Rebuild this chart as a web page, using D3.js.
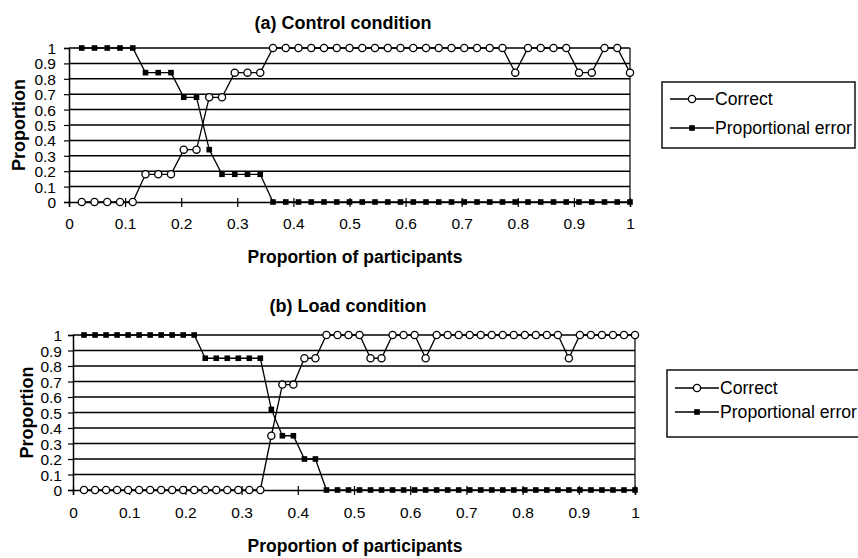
<!DOCTYPE html>
<html>
<head>
<meta charset="utf-8">
<script src="https://cdn.jsdelivr.net/npm/d3@7.9.0/dist/d3.min.js"></script>
<style>
  body { margin: 0; background: #fff; }
  svg { display: block; font-family: "Liberation Sans", Arial, sans-serif; }
</style>
</head>
<body>
<svg id="chart" width="858" height="558"></svg>
<script>
// proportion of trials per participant, participants sorted along x
const controlCorrect = [0, 0, 0, 0, 0, 0.18, 0.18, 0.18, 0.34, 0.34, 0.68, 0.68, 0.84, 0.84, 0.84,
  1, 1, 1, 1, 1, 1, 1, 1, 1, 1, 1, 1, 1, 1, 1, 1, 1, 1, 1,
  0.84, 1, 1, 1, 1, 0.84, 0.84, 1, 1, 0.84];
const controlError = [1, 1, 1, 1, 1, 0.84, 0.84, 0.84, 0.68, 0.68, 0.34, 0.18, 0.18, 0.18, 0.18,
  0, 0, 0, 0, 0, 0, 0, 0, 0, 0,
  0, 0, 0, 0, 0, 0, 0, 0, 0, 0,
  0, 0, 0, 0, 0, 0, 0, 0, 0];

const loadCorrect = [0, 0, 0, 0, 0, 0, 0, 0, 0, 0, 0, 0, 0, 0, 0, 0, 0,
  0.35, 0.68, 0.68, 0.85, 0.85, 1, 1, 1, 1, 0.85, 0.85, 1, 1, 1, 0.85,
  1, 1, 1, 1, 1, 1, 1, 1, 1, 1, 1, 1, 0.85, 1, 1, 1, 1, 1, 1];
const loadError = [1, 1, 1, 1, 1, 1, 1, 1, 1, 1, 1, 0.85, 0.85, 0.85, 0.85, 0.85, 0.85,
  0.52, 0.35, 0.35, 0.2, 0.2,
  0, 0, 0, 0, 0, 0, 0, 0, 0, 0,
  0, 0, 0, 0, 0, 0, 0, 0, 0, 0,
  0, 0, 0, 0, 0, 0, 0, 0, 0];

const xTicks = [0, 0.1, 0.2, 0.3, 0.4, 0.5, 0.6, 0.7, 0.8, 0.9, 1];
const yTicks = [0, 0.1, 0.2, 0.3, 0.4, 0.5, 0.6, 0.7, 0.8, 0.9, 1];
const seriesNames = ["Correct", "Proportional error"];

const svg = d3.select("#chart");
svg.append("rect").attr("width", 858).attr("height", 558).attr("fill", "#fff");

function drawPanel(p) {
  const n = p.correct.length;
  // x = rank of participant / number of participants
  const pts = (vals) => vals.map((v, i) => [(i + 1) / n, v]);

  const x = d3.scaleLinear().domain([0, 1]).range([p.left, p.right]);
  const y = d3.scaleLinear().domain([0, 1]).range([p.bottom, p.top]);
  const g = svg.append("g");

  // horizontal grid
  g.selectAll("line.grid").data(yTicks.slice(1)).join("line")
    .attr("x1", p.left).attr("x2", p.right)
    .attr("y1", d => y(d)).attr("y2", d => y(d))
    .attr("stroke", "#000").attr("stroke-width", 1.5);

  // right border
  g.append("line").attr("x1", p.right).attr("x2", p.right)
    .attr("y1", p.top).attr("y2", p.bottom)
    .attr("stroke", "#000").attr("stroke-width", 1.2);

  const xAxis = g.append("g").attr("transform", `translate(0,${p.bottom})`)
    .call(d3.axisBottom(x).tickValues(xTicks).tickSize(5).tickFormat(d3.format("~g")));
  xAxis.select(".domain").attr("stroke-width", 1.5);
  xAxis.selectAll(".tick line").attr("y1", -4).attr("stroke-width", 1.2);
  xAxis.selectAll("text").attr("y", 0).attr("dy", null)
    .attr("transform", `translate(0,${p.xLabelY - p.bottom})`)
    .attr("font-size", 15.5).attr("fill", "#000");

  const yAxis = g.append("g").attr("transform", `translate(${p.left},0)`)
    .call(d3.axisLeft(y).tickValues(yTicks).tickSize(5).tickFormat(d3.format("~g")));
  yAxis.select(".domain").attr("stroke-width", 1.5);
  yAxis.selectAll(".tick line").attr("stroke-width", 1.2);
  yAxis.selectAll("text").attr("x", p.yLabelX - p.left).attr("dy", "0.36em")
    .attr("font-size", 15.5).attr("fill", "#000");

  g.selectAll(".domain, .tick line").attr("stroke", "#000");

  const line = d3.line().x(d => x(d[0])).y(d => y(d[1]));

  g.append("path").datum(pts(p.error)).attr("d", line)
    .attr("fill", "none").attr("stroke", "#000").attr("stroke-width", 1.3);
  g.append("path").datum(pts(p.correct)).attr("d", line)
    .attr("fill", "none").attr("stroke", "#000").attr("stroke-width", 1.3);

  g.selectAll("rect.err").data(pts(p.error)).join("rect")
    .attr("x", d => x(d[0]) - 2.8).attr("y", d => y(d[1]) - 2.8)
    .attr("width", 5.6).attr("height", 5.6).attr("fill", "#000");
  g.selectAll("circle.cor").data(pts(p.correct)).join("circle")
    .attr("cx", d => x(d[0])).attr("cy", d => y(d[1])).attr("r", 3.6)
    .attr("fill", "#fff").attr("stroke", "#000").attr("stroke-width", 1.3);

  // titles
  g.append("text").attr("x", p.titleX).attr("y", p.titleY)
    .attr("text-anchor", "middle").attr("font-size", 18).attr("font-weight", "bold")
    .text(p.title);
  g.append("text").attr("x", 355).attr("y", p.xTitleY)
    .attr("text-anchor", "middle").attr("font-size", 17.5).attr("font-weight", "bold")
    .text("Proportion of participants");
  g.append("text")
    .attr("transform", `translate(${p.yTitleX},${(p.top + p.bottom) / 2}) rotate(-90)`)
    .attr("text-anchor", "middle").attr("dy", "0.35em")
    .attr("font-size", 18).attr("font-weight", "bold")
    .text("Proportion");

  // legend
  const L = p.legend;
  g.append("rect").attr("x", L.x).attr("y", L.y).attr("width", L.w).attr("height", L.h)
    .attr("fill", "#fff").attr("stroke", "#000").attr("stroke-width", 1.4);
  seriesNames.forEach((name, i) => {
    const ly = L.rows[i];
    g.append("line").attr("x1", L.x + 8).attr("x2", L.x + 52)
      .attr("y1", ly).attr("y2", ly).attr("stroke", "#000").attr("stroke-width", 1.3);
    if (i === 0) {
      g.append("circle").attr("cx", L.x + 30).attr("cy", ly).attr("r", 3.6)
        .attr("fill", "#fff").attr("stroke", "#000").attr("stroke-width", 1.3);
    } else {
      g.append("rect").attr("x", L.x + 27.2).attr("y", ly - 2.8)
        .attr("width", 5.6).attr("height", 5.6).attr("fill", "#000");
    }
    g.append("text").attr("x", L.x + 53).attr("y", ly).attr("dy", "0.36em")
      .attr("font-size", 17.6).text(name);
  });
}

drawPanel({
  correct: controlCorrect, error: controlError,
  left: 69, right: 630, top: 48, bottom: 202,
  xLabelY: 229, yLabelX: 56, xTitleY: 263, yTitleX: 19,
  title: "(a) Control condition", titleX: 343, titleY: 29,
  legend: { x: 662, y: 82, w: 193, h: 66, rows: [99, 128] }
});

drawPanel({
  correct: loadCorrect, error: loadError,
  left: 73, right: 635, top: 335, bottom: 490,
  xLabelY: 518, yLabelX: 62, xTitleY: 552, yTitleX: 27,
  title: "(b) Load condition", titleX: 348, titleY: 312,
  legend: { x: 667, y: 370, w: 220, h: 67, rows: [388, 412] }
});
</script>
</body>
</html>
